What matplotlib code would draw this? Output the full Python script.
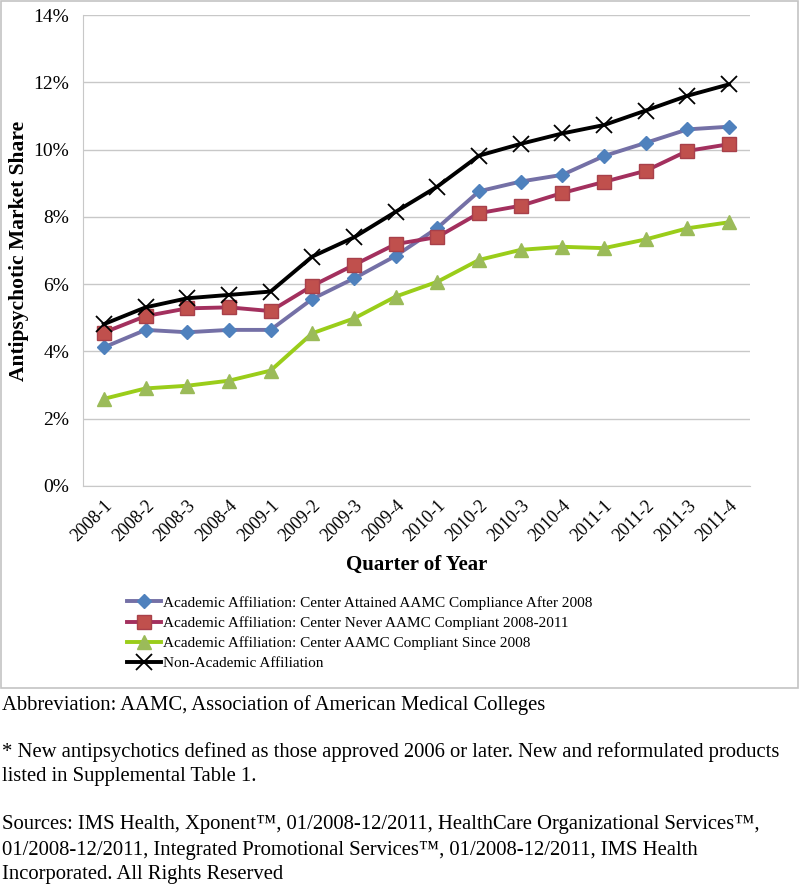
import matplotlib
matplotlib.use("Agg")
import matplotlib.pyplot as plt
from matplotlib.patches import Rectangle
from matplotlib.ticker import FuncFormatter

plt.rcParams['font.family'] = ['Liberation Serif', 'DejaVu Serif']

quarters = ['2008-1', '2008-2', '2008-3', '2008-4', '2009-1', '2009-2', '2009-3', '2009-4',
            '2010-1', '2010-2', '2010-3', '2010-4', '2011-1', '2011-2', '2011-3', '2011-4']

attained_after = [4.12, 4.64, 4.57, 4.64, 4.64, 5.56, 6.17, 6.84,
                  7.67, 8.76, 9.05, 9.25, 9.81, 10.2, 10.6, 10.68]
never_compliant = [4.56, 5.05, 5.28, 5.31, 5.20, 5.95, 6.57, 7.19,
                   7.40, 8.11, 8.33, 8.71, 9.04, 9.37, 9.96, 10.16]
compliant_since = [2.59, 2.90, 2.98, 3.13, 3.43, 4.54, 4.98, 5.63,
                   6.07, 6.72, 7.02, 7.11, 7.07, 7.33, 7.66, 7.84]
non_academic = [4.81, 5.31, 5.58, 5.68, 5.78, 6.82, 7.39, 8.15,
                8.90, 9.82, 10.17, 10.48, 10.73, 11.16, 11.60, 11.94]

labels = ['Academic Affiliation: Center Attained AAMC Compliance After 2008',
          'Academic Affiliation: Center Never AAMC Compliant 2008-2011',
          'Academic Affiliation: Center AAMC Compliant Since 2008',
          'Non-Academic Affiliation']

W, H = 800, 885
fig = plt.figure(figsize=(W / 100, H / 100), dpi=100)

# chart frame
fig.patches.append(Rectangle((1 / W, 1 - 688 / H), 797 / W, 687 / H, transform=fig.transFigure,
                             fill=False, edgecolor='#c4c4c4', linewidth=1.2))

ax = fig.add_axes([83 / W, 1 - 486 / H, 667 / W, 471 / H])
x = list(range(len(quarters)))

ax.plot(x, attained_after, color='#7470a6', lw=2.8, marker='D', ms=7,
        mfc='#4f81bd', mec='#4f81bd', label=labels[0], zorder=3)
ax.plot(x, never_compliant, color='#a3305e', lw=2.8, marker='s', ms=10,
        mfc='#c0504d', mec='#a8404a', label=labels[1], zorder=3)
ax.plot(x, compliant_since, color='#9acd1a', lw=2.8, marker='^', ms=10,
        mfc='#9bbb59', mec='#9bbb59', label=labels[2], zorder=3)
ax.plot(x, non_academic, color='black', lw=2.8, marker='x', ms=11, mew=1.3,
        label=labels[3], zorder=4)

ax.set_xlim(-0.5, len(quarters) - 0.5)
ax.set_ylim(0, 14)
ax.set_yticks(range(0, 15, 2))
ax.yaxis.set_major_formatter(FuncFormatter(lambda v, p: f'{v:.0f}%'))
ax.set_xticks(x)
ax.set_xticklabels(quarters, rotation=45, ha='right', rotation_mode='anchor', fontsize=13)
ax.tick_params(axis='y', labelsize=14, length=0, pad=10)
ax.tick_params(axis='x', length=0, pad=8)
ax.grid(axis='y', color='#c8c8c8', lw=1)
ax.set_axisbelow(True)
for s in ['top', 'right']:
    ax.spines[s].set_visible(False)
ax.spines['left'].set_color('#c8c8c8')
ax.spines['bottom'].set_color('#c8c8c8')

ax.set_ylabel('Antipsychotic Market Share', fontsize=15.5, fontweight='bold')
ax.yaxis.set_label_coords((29 - 83) / 667, 0.5)
fig.text(417 / W, 1 - 565 / H, 'Quarter of Year', fontsize=15, fontweight='bold',
         ha='center', va='center')

fig.legend(loc='upper left', bbox_to_anchor=(127 / W, 1 - 596 / H), frameon=False,
           fontsize=11, handlelength=2.2, handletextpad=0.15, labelspacing=0.42,
           borderpad=0, borderaxespad=0)

notes = [(705, 'Abbreviation: AAMC, Association of American Medical Colleges'),
         (752, '* New antipsychotics defined as those approved 2006 or later. New and reformulated products'),
         (777, 'listed in Supplemental Table 1.'),
         (825, 'Sources: IMS Health, Xponent\u2122, 01/2008-12/2011, HealthCare Organizational Services\u2122,'),
         (850, '01/2008-12/2011, Integrated Promotional Services\u2122, 01/2008-12/2011, IMS Health'),
         (875, 'Incorporated. All Rights Reserved')]
for yp, t in notes:
    fig.text(2 / W, 1 - yp / H, t, fontsize=14.9, ha='left', va='center')

fig.savefig('out.png', dpi=100)
